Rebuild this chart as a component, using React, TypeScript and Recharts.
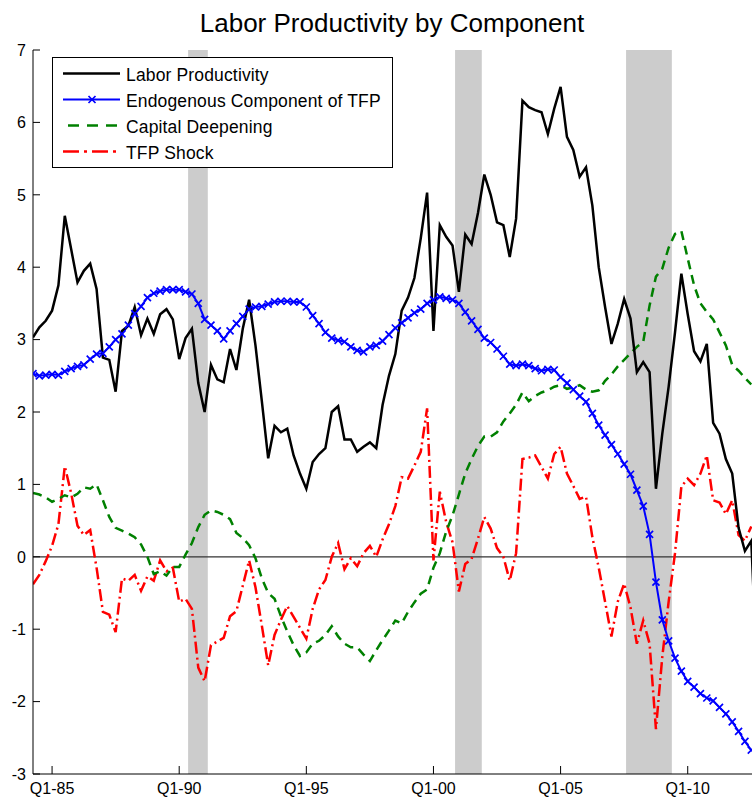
import React from 'react';
import { LineChart, Line, XAxis, YAxis, ReferenceArea, ReferenceLine, Legend } from 'recharts';

// Quarterly observations, index 0 = 1984Q2
const laborProductivity = [
  3.03, 3.17, 3.26, 3.40, 3.75, 4.71, 4.25, 3.79, 3.95, 4.05,
  3.70, 2.75, 2.72, 2.28, 3.12, 3.19, 3.45, 3.06, 3.29, 3.08,
  3.35, 3.42, 3.28, 2.73, 3.02, 3.15, 2.40, 2.00, 2.65, 2.45,
  2.41, 2.87, 2.58, 3.15, 3.55, 2.92, 2.15, 1.36, 1.81, 1.72,
  1.77, 1.40, 1.15, 0.94, 1.31, 1.42, 1.50, 2.00, 2.08, 1.62,
  1.62, 1.45, 1.52, 1.58, 1.50, 2.10, 2.50, 2.80, 3.40, 3.58,
  3.85, 4.40, 5.03, 3.12, 4.58, 4.42, 4.30, 3.66, 4.45, 4.32,
  4.75, 5.28, 5.00, 4.62, 4.58, 4.14, 4.67, 6.30, 6.21, 6.17,
  6.14, 5.84, 6.19, 6.49, 5.80, 5.62, 5.25, 5.38, 4.85, 4.00,
  3.45, 2.94, 3.22, 3.56, 3.29, 2.55, 2.69, 2.55, 0.94, 1.70,
  2.35, 3.10, 3.91, 3.35, 2.84, 2.70, 2.94, 1.85, 1.70, 1.35,
  1.15, 0.40, 0.08, 0.22, -1.80,
];
const endogenousTFP = [
  2.53, 2.50, 2.51, 2.52, 2.51, 2.56, 2.60, 2.63, 2.65, 2.73,
  2.80, 2.81, 2.90, 3.00, 3.08, 3.20, 3.36, 3.46, 3.58, 3.64,
  3.67, 3.69, 3.69, 3.69, 3.66, 3.63, 3.50, 3.28, 3.20, 3.12,
  3.01, 3.12, 3.22, 3.32, 3.42, 3.45, 3.46, 3.49, 3.52, 3.53,
  3.53, 3.52, 3.52, 3.45, 3.33, 3.22, 3.10, 3.02, 2.99, 2.97,
  2.90, 2.85, 2.83, 2.90, 2.92, 2.98, 3.07, 3.16, 3.23, 3.30,
  3.37, 3.42, 3.50, 3.55, 3.59, 3.57, 3.55, 3.50, 3.38, 3.26,
  3.14, 3.02, 2.96, 2.87, 2.77, 2.66, 2.64, 2.66, 2.64, 2.60,
  2.57, 2.59, 2.58, 2.48, 2.40, 2.31, 2.22, 2.14, 1.98, 1.82,
  1.68, 1.55, 1.42, 1.28, 1.14, 0.92, 0.70, 0.31, -0.35, -0.87,
  -1.16, -1.40, -1.58, -1.72, -1.80, -1.89, -1.95, -1.99, -2.08, -2.17,
  -2.28, -2.41, -2.55, -2.67,
];
const capitalDeepening = [
  0.88, 0.86, 0.82, 0.76, 0.80, 0.85, 0.82, 0.87, 0.96, 0.94,
  1.00, 0.78, 0.55, 0.40, 0.36, 0.32, 0.27, 0.17, 0.00, -0.24,
  -0.20, -0.26, -0.14, -0.14, 0.03, 0.19, 0.41, 0.58, 0.64, 0.62,
  0.58, 0.52, 0.33, 0.26, 0.16, -0.02, -0.30, -0.50, -0.58, -0.82,
  -1.03, -1.22, -1.37, -1.32, -1.20, -1.16, -1.08, -0.96, -1.10, -1.20,
  -1.25, -1.25, -1.35, -1.44, -1.29, -1.15, -1.02, -0.88, -0.92, -0.76,
  -0.63, -0.51, -0.45, -0.15, 0.05, 0.35, 0.57, 0.86, 1.15, 1.35,
  1.53, 1.66, 1.66, 1.72, 1.87, 1.98, 2.10, 2.27, 2.15, 2.22,
  2.27, 2.30, 2.35, 2.37, 2.32, 2.34, 2.37, 2.31, 2.28, 2.30,
  2.43, 2.52, 2.63, 2.72, 2.81, 2.90, 2.97, 3.47, 3.87, 3.98,
  4.27, 4.46, 4.50, 4.12, 3.75, 3.50, 3.38, 3.28, 3.10, 2.92,
  2.65, 2.57, 2.47, 2.38,
];
const tfpShock = [
  -0.38, -0.25, -0.06, 0.15, 0.45, 1.25, 0.88, 0.43, 0.30, 0.37,
  -0.15, -0.76, -0.80, -1.04, -0.30, -0.33, -0.25, -0.47, -0.27, -0.33,
  -0.05, -0.20, -0.15, -0.62, -0.58, -0.72, -1.53, -1.72, -1.22, -1.17,
  -1.12, -0.82, -0.75, -0.40, -0.05, -0.42, -0.95, -1.50, -1.08, -0.87,
  -0.68, -0.83, -0.98, -1.13, -0.72, -0.45, -0.32, 0.00, 0.19, -0.17,
  -0.02, -0.13, 0.05, 0.15, 0.00, 0.24, 0.45, 0.70, 1.10, 1.08,
  1.26, 1.45, 2.05, -0.05, 0.90, 0.48, 0.20, -0.48, -0.10, -0.03,
  0.25, 0.55, 0.39, 0.12, 0.00, -0.33, 0.05, 1.35, 1.37, 1.40,
  1.24, 1.08, 1.42, 1.52, 1.15, 0.98, 0.80, 0.83, 0.27, -0.15,
  -0.62, -1.10, -0.62, -0.37, -0.70, -1.20, -0.88, -1.20, -2.38, -1.38,
  -0.62, 0.05, 0.97, 1.08, 0.99, 1.15, 1.40, 0.78, 0.75, 0.59,
  0.78, 0.30, 0.22, 0.42,
];

const xTickPositions = [3, 23, 43, 63, 83, 103];
const xTickLabels = ['Q1-85', 'Q1-90', 'Q1-95', 'Q1-00', 'Q1-05', 'Q1-10'];
const yTicks = [-3, -2, -1, 0, 1, 2, 3, 4, 5, 6, 7];
const recessionStarts = [24.4, 66.4, 93.3];
const recessionEnds = [27.5, 70.6, 100.5];

const seriesNames = ['Labor Productivity', 'Endogenous Component of TFP', 'Capital Deepening', 'TFP Shock'];

const data = laborProductivity.map((v, i) => ({
  i,
  lp: v,
  endo: endogenousTFP[i],
  cap: capitalDeepening[i],
  tfp: tfpShock[i],
}));

const FONT = "'Liberation Sans', Arial, Helvetica, sans-serif";
const BLUE = '#0000ff';
const GREEN = '#008000';
const RED = '#ff0000';

const XMark = (props: any) => {
  const { cx, cy, index } = props;
  if (cx == null || cy == null || isNaN(cx) || isNaN(cy)) return <g key={`m${index}`} />;
  const s = 3.5;
  return (
    <path
      key={`m${index}`}
      d={`M${cx - s},${cy - s}L${cx + s},${cy + s}M${cx - s},${cy + s}L${cx + s},${cy - s}`}
      stroke={BLUE}
      strokeWidth={1.7}
      fill="none"
    />
  );
};

const XTick = (props: any) => {
  const { x, y, payload } = props;
  const idx = xTickPositions.indexOf(payload.value);
  return (
    <g>
      <line x1={x} x2={x} y1={y} y2={y - 8} stroke="#000" strokeWidth={1} />
      <text x={x} y={y + 20} textAnchor="middle" fontSize={16} fontFamily={FONT} fill="#000">
        {idx >= 0 ? xTickLabels[idx] : ''}
      </text>
    </g>
  );
};

const YTick = (props: any) => {
  const { x, y, payload } = props;
  return (
    <g>
      <line x1={x} x2={x + 7} y1={y} y2={y} stroke="#000" strokeWidth={1} />
      <text x={x - 7} y={y} dy="0.36em" textAnchor="end" fontSize={16} fontFamily={FONT} fill="#000">
        {payload.value}
      </text>
    </g>
  );
};

const LegendBox = () => {
  const rowY = (k: number) => 16.5 + 26 * k;
  return (
    <svg width={342} height={112} style={{ display: 'block' }}>
      <rect x={0.5} y={0.5} width={340} height={110} fill="#fff" stroke="#000" strokeWidth={1} />
      <line x1={11} x2={68} y1={rowY(0)} y2={rowY(0)} stroke="#000" strokeWidth={2.5} />
      <line x1={11} x2={68} y1={rowY(1)} y2={rowY(1)} stroke={BLUE} strokeWidth={2} />
      <path d={`M36.5,${rowY(1) - 3.5}L43.5,${rowY(1) + 3.5}M36.5,${rowY(1) + 3.5}L43.5,${rowY(1) - 3.5}`} stroke={BLUE} strokeWidth={1.7} />
      <line x1={16} x2={68} y1={rowY(2)} y2={rowY(2)} stroke={GREEN} strokeWidth={2.5} strokeDasharray="11 8" />
      <line x1={11} x2={68} y1={rowY(3)} y2={rowY(3)} stroke={RED} strokeWidth={2.5} strokeDasharray="16 5 3 5" />
      {seriesNames.map((n, k) => (
        <text key={n} x={74} y={rowY(k) + 7.2} fontSize={17.5} fontFamily={FONT} fill="#000" letterSpacing={0.15}>
          {n}
        </text>
      ))}
    </svg>
  );
};

export default function App() {
  return (
    <div style={{ position: 'fixed', left: 0, top: 0, width: 752, height: 802, overflow: 'hidden', background: '#fff' }}>
      <div style={{ position: 'absolute', left: 0, top: 0, width: 764, height: 802 }}>
        <LineChart width={764} height={802} data={data} margin={{ top: 50, right: 0, left: 0, bottom: 0 }}>
          {recessionStarts.map((s, k) => (
            <ReferenceArea key={`r${k}`} x1={s} x2={recessionEnds[k]} fill="#cccccc" fillOpacity={1} stroke="none" ifOverflow="hidden" />
          ))}
          <XAxis
            dataKey="i"
            type="number"
            domain={[0, 115]}
            ticks={xTickPositions}
            height={28}
            tickSize={0}
            tickMargin={0}
            tickLine={false}
            axisLine={{ stroke: '#000', strokeWidth: 1 }}
            tick={XTick}
            interval={0}
            allowDataOverflow
          />
          <YAxis
            type="number"
            domain={[-3, 7]}
            ticks={yTicks}
            width={33}
            tickSize={0}
            tickMargin={0}
            tickLine={false}
            axisLine={{ stroke: '#000', strokeWidth: 1 }}
            tick={YTick}
            interval={0}
            allowDataOverflow
          />
          <ReferenceLine y={0} stroke="#333333" strokeWidth={1.3} />
          <Line type="linear" dataKey="tfp" stroke={RED} strokeWidth={2.5} strokeDasharray="12 4 2 4" dot={false} isAnimationActive={false} />
          <Line type="linear" dataKey="cap" stroke={GREEN} strokeWidth={2.5} strokeDasharray="9 6" dot={false} isAnimationActive={false} />
          <Line type="linear" dataKey="endo" stroke={BLUE} strokeWidth={2} dot={XMark} activeDot={false} isAnimationActive={false} />
          <Line type="linear" dataKey="lp" stroke="#000" strokeWidth={2.5} dot={false} isAnimationActive={false} />
          <Legend
            layout="vertical"
            align="center"
            verticalAlign="middle"
            wrapperStyle={{ position: 'absolute', left: 52, top: 57, width: 342, height: 112 }}
            content={LegendBox}
          />
        </LineChart>
      </div>
      <svg width={752} height={46} style={{ position: 'absolute', left: 0, top: 0 }}>
        <text x={392} y={32} textAnchor="middle" fontSize={26} fontFamily={FONT} fill="#000">
          Labor Productivity by Component
        </text>
      </svg>
    </div>
  );
}
